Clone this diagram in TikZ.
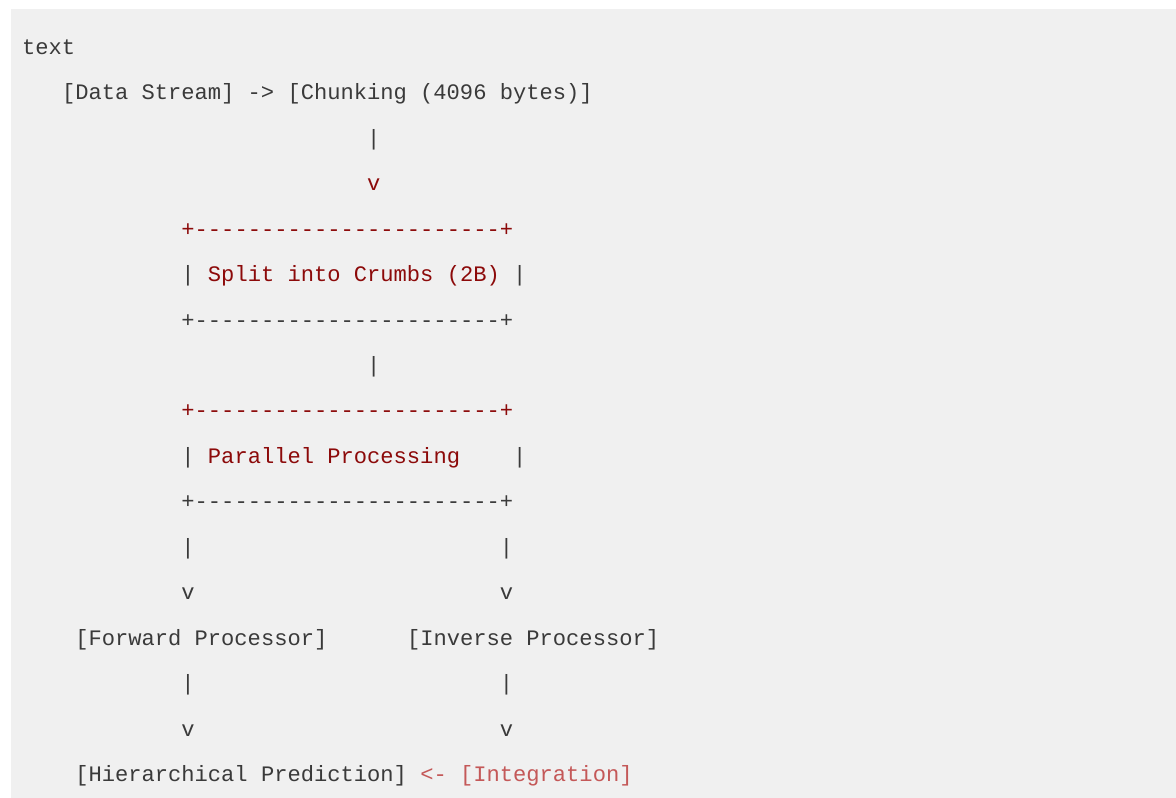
\documentclass[tikz,border=0pt]{standalone}
\usepackage{fontspec}
\setmonofont{Liberation Mono}
\definecolor{codebg}{RGB}{240,240,240}
\definecolor{codefg}{RGB}{58,58,58}
\definecolor{kw}{RGB}{140,10,10}
\definecolor{op}{RGB}{196,88,88}
\newcommand{\seg}[5]{\node[seg,text=#4] (#1) at ({22.2+13.27*#2},{54.4+45.44*#3}) {#5};}
\tikzset{seg/.style={anchor=base west,inner sep=0pt,outer sep=0pt,font=\ttfamily\fontsize{22.11pt}{26pt}\selectfont}}
\begin{document}
\begin{tikzpicture}[x=1pt,y=-1pt]
\useasboundingbox (0,0) rectangle (1176,798);
\fill[white] (0,0) rectangle (1176,798);
\fill[codebg] (11,9) rectangle (1176,798);
\seg{l0}{0}{0}{codefg}{text}
\seg{l1}{3}{1}{codefg}{[Data Stream] -> [Chunking (4096 bytes)]}
\seg{l2}{26}{2}{codefg}{|}
\seg{l3}{26}{3}{kw}{v}
\seg{b1top}{12}{4}{kw}{+-----------------------+}
\seg{b1l}{12}{5}{codefg}{|}
\seg{b1t}{14}{5}{kw}{Split into Crumbs (2B)}
\seg{b1r}{37}{5}{codefg}{|}
\seg{b1bot}{12}{6}{codefg}{+-----------------------+}
\seg{l7}{26}{7}{codefg}{|}
\seg{b2top}{12}{8}{kw}{+-----------------------+}
\seg{b2l}{12}{9}{codefg}{|}
\seg{b2t}{14}{9}{kw}{Parallel Processing}
\seg{b2r}{37}{9}{codefg}{|}
\seg{b2bot}{12}{10}{codefg}{+-----------------------+}
\seg{l11a}{12}{11}{codefg}{|}
\seg{l11b}{36}{11}{codefg}{|}
\seg{l12a}{12}{12}{codefg}{v}
\seg{l12b}{36}{12}{codefg}{v}
\seg{fwd}{4}{13}{codefg}{[Forward Processor]}
\seg{inv}{29}{13}{codefg}{[Inverse Processor]}
\seg{l14a}{12}{14}{codefg}{|}
\seg{l14b}{36}{14}{codefg}{|}
\seg{l15a}{12}{15}{codefg}{v}
\seg{l15b}{36}{15}{codefg}{v}
\seg{hier}{4}{16}{codefg}{[Hierarchical Prediction]}
\seg{integ}{30}{16}{op}{<- [Integration]}
\end{tikzpicture}
\end{document}
